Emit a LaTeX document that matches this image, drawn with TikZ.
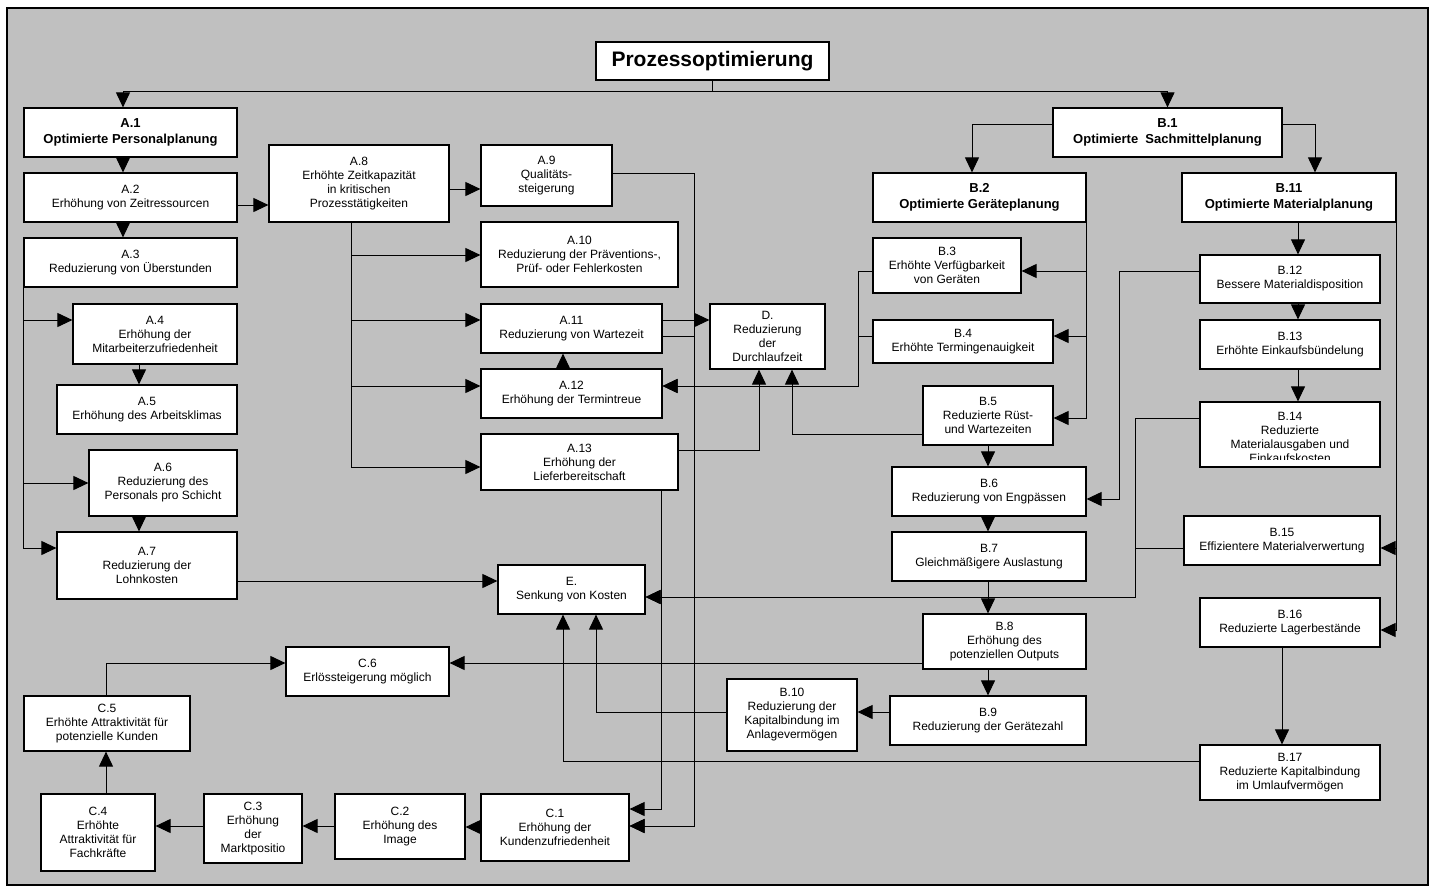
\documentclass[tikz,border=0pt]{standalone}
\usepackage{fontspec}
\setmainfont{Liberation Sans}
\usetikzlibrary{arrows.meta}
\tikzset{
  box/.style={draw=black, line width=1.2pt, fill=white, inner sep=0pt, align=center, font=\fontsize{12}{14}\selectfont},
  bbox/.style={box, font=\fontsize{13}{15.5}\selectfont\bfseries},
  tbox/.style={box, font=\fontsize{21}{25}\selectfont\bfseries},
  txtonly/.style={inner sep=0pt, align=center, font=\fontsize{12}{14}\selectfont},
  conn/.style={line width=1pt},
  arr/.style={conn, -{Triangle[length=15pt,width=14pt]}},
}
\newcommand\mkbox[7][box]{\node[#1, minimum width={(#5-#3)*1pt}, minimum height={(#6-#4)*1pt}] (#2) at ({(#3+#5)/2},{(#4+#6)/2}) {#7};}
\begin{document}
\begin{tikzpicture}[x=1pt,y=-1pt]
\useasboundingbox (0,0) rectangle (1430,886);
\fill[white] (0,0) rectangle (1430,886);
\draw[line width=1.5pt, fill={rgb,255:red,192;green,192;blue,192}] (7,8) rectangle (1428,885);

% boxes
\mkbox[tbox]{title}{596}{42}{829}{80}{Prozessoptimierung}
\mkbox[bbox]{a1}{24}{108}{237}{157}{A.1\\Optimierte Personalplanung}
\mkbox{a2}{24}{173}{237}{222}{A.2\\Erhöhung von Zeitressourcen}
\mkbox{a3}{24}{238}{237}{287}{A.3\\Reduzierung von Überstunden}
\mkbox{a4}{73}{304}{237}{364}{A.4\\Erhöhung der\\Mitarbeiterzufriedenheit}
\mkbox{a5}{57}{385}{237}{434}{A.5\\Erhöhung des Arbeitsklimas}
\mkbox{a6}{89}{450}{237}{516}{A.6\\Reduzierung des\\Personals pro Schicht}
\mkbox{a7}{57}{532}{237}{599}{A.7\\Reduzierung der\\Lohnkosten}
\mkbox{a8}{269}{145}{449}{222}{A.8\\Erhöhte Zeitkapazität\\in kritischen\\Prozesstätigkeiten}
\mkbox{a9}{481}{145}{612}{206}{A.9\\Qualitäts-\\steigerung}
\mkbox{a10}{481}{222}{678}{287}{A.10\\Reduzierung der Präventions-,\\Prüf- oder Fehlerkosten}
\mkbox{a11}{481}{304}{662}{353}{A.11\\Reduzierung von Wartezeit}
\mkbox{a12}{481}{369}{662}{418}{A.12\\Erhöhung der Termintreue}
\mkbox{a13}{481}{434}{678}{490}{A.13\\Erhöhung der\\Lieferbereitschaft}
\mkbox{d}{710}{304}{825}{369}{D.\\Reduzierung\\der\\Durchlaufzeit}
\mkbox{e}{498}{565}{645}{614}{E.\\Senkung von Kosten}
\mkbox[bbox]{b1}{1053}{108}{1282}{157}{B.1\\Optimierte\ \ Sachmittelplanung}
\mkbox[bbox]{b2}{873}{173}{1086}{222}{B.2\\Optimierte Geräteplanung}
\mkbox[bbox]{b11}{1182}{173}{1396}{222}{B.11\\Optimierte Materialplanung}
\mkbox{b3}{873}{238}{1021}{293}{B.3\\Erhöhte Verfügbarkeit\\von Geräten}
\mkbox{b4}{873}{320}{1053}{363}{B.4\\Erhöhte Termingenauigkeit}
\mkbox{b5}{923}{386}{1053}{445}{B.5\\Reduzierte Rüst-\\und Wartezeiten}
\mkbox{b6}{892}{467}{1086}{516}{B.6\\Reduzierung von Engpässen}
\mkbox{b7}{892}{532}{1086}{581}{B.7\\Gleichmäßigere Auslastung}
\mkbox{b8}{923}{614}{1086}{669}{B.8\\Erhöhung des\\potenziellen Outputs}
\mkbox{b9}{890}{696}{1086}{745}{B.9\\Reduzierung der Gerätezahl}
\mkbox{b10}{727}{679}{857}{751}{B.10\\Reduzierung der\\Kapitalbindung im\\Anlagevermögen}
\mkbox{b12}{1200}{255}{1380}{303}{B.12\\Bessere Materialdisposition}
\mkbox{b13}{1200}{320}{1380}{369}{B.13\\Erhöhte Einkaufsbündelung}
\mkbox{b14}{1200}{402}{1380}{467}{}
\begin{scope}
  \clip (1200,402) rectangle (1380,459);
  \node[txtonly] (b14t) at (1290,437) {B.14\\Reduzierte\\Materialausgaben und\\Einkaufskosten};
\end{scope}
\mkbox{b15}{1184}{516}{1380}{565}{B.15\\Effizientere Materialverwertung}
\mkbox{b16}{1200}{598}{1380}{647}{B.16\\Reduzierte Lagerbestände}
\mkbox{b17}{1200}{745}{1380}{800}{B.17\\Reduzierte Kapitalbindung\\im Umlaufvermögen}
\mkbox{c1}{481}{794}{629}{861}{C.1\\Erhöhung der\\Kundenzufriedenheit}
\mkbox{c2}{335}{794}{465}{859}{C.2\\Erhöhung des\\Image}
\mkbox{c3}{204}{794}{302}{863}{C.3\\Erhöhung\\der\\Marktpositio}
\mkbox{c4}{41}{794}{155}{871}{C.4\\Erhöhte\\Attraktivität für\\Fachkräfte}
\mkbox{c5}{24}{696}{190}{751}{C.5\\Erhöhte Attraktivität für\\potenzielle Kunden}
\mkbox{c6}{286}{647}{449}{696}{C.6\\Erlössteigerung möglich}

% connectors
\draw[arr] (title.south) -- ++(0,11) -| (a1.north -| 123,0);
\draw[arr] (title.south) -- ++(0,11) -| (b1.north);
\draw[arr] (a1.south -| 123,0) -- (a2.north -| 123,0);
\draw[arr] (a2.south -| 123,0) -- (a3.north -| 123,0);
\draw[arr] (a2.east |- 0,205) -- (a8.west |- 0,205);
\draw[arr] (a8.east |- 0,189) -- (a9.west |- 0,189);
\draw[arr] (a8.south -| 351,0) |- (a10.west |- 0,255);
\draw[arr] (a8.south -| 351,0) |- (a11.west |- 0,320);
\draw[arr] (a8.south -| 351,0) |- (a12.west |- 0,386);
\draw[arr] (a8.south -| 351,0) |- (a13.west |- 0,467);
\draw[arr] (a3.south west) |- (a4.west |- 0,320);
\draw[arr] (a3.south west) |- (a6.west |- 0,483);
\draw[arr] (a3.south west) |- (a7.west |- 0,548);
\draw[arr] (a4.south -| 139,0) -- (a5.north -| 139,0);
\draw[arr] (a6.south -| 139,0) -- (a7.north -| 139,0);
\draw[arr] (a7.east |- 0,581) -- (e.west |- 0,581);
\draw[arr] (a9.east |- 0,173) -- (694,173) |- (c1.east |- 0,826);
\draw[arr] (a11.east |- 0,336) -- (694,336) |- (c1.east |- 0,826);
\draw[arr] (a11.east |- 0,320) -- (d.west |- 0,320);
\draw[arr] (a12.north -| 563,0) -- (a11.south -| 563,0);
\draw[arr] (a13.east |- 0,450) -| (d.south -| 759,0);
\draw[arr] (a13.south -| 661,0) |- (c1.east |- 0,809);
\draw[arr] (b3.west |- 0,271) -- (858,271) |- (a12.east |- 0,386);
\draw[arr] (b4.west |- 0,336) -- (858,336) |- (a12.east |- 0,386);
\draw[arr] (b5.west |- 0,434) -| (d.south -| 792,0);
\draw[arr] (b1.west |- 0,124) -| (b2.north -| 972,0);
\draw[arr] (b1.east |- 0,124) -| (b11.north -| 1315,0);
\draw[arr] (b2.south east) |- (b3.east |- 0,271);
\draw[arr] (b2.south east) |- (b4.east |- 0,336);
\draw[arr] (b2.south east) |- (b5.east |- 0,418);
\draw[arr] (b5.south -| 988,0) -- (b6.north -| 988,0);
\draw[arr] (b6.south -| 988,0) -- (b7.north -| 988,0);
\draw[arr] (b7.south -| 988,0) -- (b8.north -| 988,0);
\draw[arr] (b8.south -| 988,0) -- (b9.north -| 988,0);
\draw[arr] (b9.west |- 0,712) -- (b10.east |- 0,712);
\draw[arr] (b10.west |- 0,712) -| (e.south -| 596,0);
\draw[arr] (b17.west |- 0,761) -| (e.south -| 563,0);
\draw[arr] (b14.west |- 0,418) -- (1135,418) |- (e.east |- 0,597);
\draw[arr] (b15.west |- 0,548) -- (1135,548) |- (e.east |- 0,597);
\draw[arr] (b12.west |- 0,271) -- (1119,271) |- (b6.east |- 0,499);
\draw[arr] (b11.south -| 1298,0) -- (b12.north -| 1298,0);
\draw[arr] (b12.south -| 1298,0) -- (b13.north -| 1298,0);
\draw[arr] (b13.south -| 1298,0) -- (b14.north -| 1298,0);
\draw[arr] (b11.south east) |- (b15.east |- 0,548);
\draw[arr] (b11.south east) |- (b16.east |- 0,630);
\draw[arr] (b16.south -| 1282,0) -- (b17.north -| 1282,0);
\draw[arr] (b8.west |- 0,663) -- (c6.east |- 0,663);
\draw[arr] (c5.north -| 106,0) |- (c6.west |- 0,663);
\draw[arr] (c4.north -| 106,0) -- (c5.south -| 106,0);
\draw[arr] (c1.west |- 0,827) -- (c2.east |- 0,827);
\draw[arr] (c2.west |- 0,826) -- (c3.east |- 0,826);
\draw[arr] (c3.west |- 0,826) -- (c4.east |- 0,826);
\end{tikzpicture}
\end{document}
